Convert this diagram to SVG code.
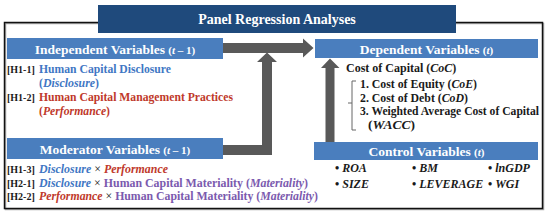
<svg xmlns="http://www.w3.org/2000/svg" width="550" height="214" viewBox="0 0 550 214">
<defs>
<style>
text{font-family:"Liberation Serif","Times New Roman",serif;font-weight:bold;}
.hdr{fill:#4A7EBE;}
.hdrt{fill:#fff;font-size:13.5px;text-anchor:middle;}
.sm{font-size:11px;}
.b{font-size:12px;fill:#1a1a1a;}
.tag{font-size:10px;fill:#1a1a1a;}
.blue{fill:#3F77C4;}
.red{fill:#C0392B;}
.pur{fill:#7B5AAE;}
.blk{fill:#1a1a1a;font-weight:normal;}
.i{font-style:italic;}
.arrow{fill:#595959;}
.brk{fill:none;stroke:#666;stroke-width:1;}
</style>
</defs>
<rect width="550" height="214" fill="#fff"/>
<g id="frame">
<rect x="5.5" y="23.5" width="538" height="186" fill="none" stroke="#aaa" stroke-width="1.5"/>
<rect x="4.5" y="22.5" width="538" height="186" fill="none" stroke="#111" stroke-width="1.5"/>
</g>
<g id="title">
<rect x="98" y="5" width="358" height="28" fill="#1F4A7C"/>
<text x="277" y="23.5" fill="#fff" font-size="14" text-anchor="middle">Panel Regression Analyses</text>
</g>
<g id="connectors">
<polygon class="arrow" points="223,43 303,43 303,38.5 313.5,48 303,57.5 303,53 223,53"/>
<polygon class="arrow" points="223,145 262,145 262,62 257,62 267,52.5 277,62 272,62 272,155 223,155"/>
<polygon class="arrow" points="325.5,142 325.5,68 321,68 330,58.5 339.5,68 334.5,68 334.5,142"/>
</g>
<g id="independent">
<rect class="hdr" x="7" y="38" width="216" height="21"/>
<text class="hdrt" x="115" y="54">Independent Variables <tspan class="sm">(<tspan class="i">t</tspan> – 1)</tspan></text>
<text class="tag" x="7" y="73">[H1-1]</text>
<text class="b blue" x="39" y="73" textLength="132" lengthAdjust="spacingAndGlyphs">Human Capital Disclosure</text>
<text class="b blue" x="39" y="87" textLength="60" lengthAdjust="spacingAndGlyphs">(<tspan class="i">Disclosure</tspan>)</text>
<text class="tag" x="7" y="101">[H1-2]</text>
<text class="b red" x="39" y="101" textLength="194" lengthAdjust="spacingAndGlyphs">Human Capital Management Practices</text>
<text class="b red" x="39" y="114.5" textLength="71" lengthAdjust="spacingAndGlyphs">(<tspan class="i">Performance</tspan>)</text>
</g>
<g id="moderator">
<rect class="hdr" x="7" y="138" width="216" height="21"/>
<text class="hdrt" x="115" y="153.5">Moderator Variables <tspan class="sm">(<tspan class="i">t</tspan> – 1)</tspan></text>
<text class="tag" x="7" y="173">[H1-3]</text>
<text class="b" x="39" y="173" textLength="129" lengthAdjust="spacingAndGlyphs"><tspan class="blue i">Disclosure</tspan> <tspan class="blk">×</tspan> <tspan class="red i">Performance</tspan></text>
<text class="tag" x="7" y="186.5">[H2-1]</text>
<text class="b" x="39" y="186.5" textLength="269" lengthAdjust="spacingAndGlyphs"><tspan class="blue i">Disclosure</tspan> <tspan class="blk">×</tspan> <tspan class="pur">Human Capital Materiality (<tspan class="i">Materiality</tspan>)</tspan></text>
<text class="tag" x="7" y="200">[H2-2]</text>
<text class="b" x="39" y="200" textLength="279" lengthAdjust="spacingAndGlyphs"><tspan class="red i">Performance</tspan> <tspan class="blk">×</tspan> <tspan class="pur">Human Capital Materiality (<tspan class="i">Materiality</tspan>)</tspan></text>
</g>
<g id="dependent">
<rect class="hdr" x="315" y="39" width="223" height="19"/>
<text class="hdrt" x="426.5" y="53.5">Dependent Variables <tspan class="sm">(<tspan class="i">t</tspan>)</tspan></text>
<text class="b" x="346" y="72">Cost of Capital (<tspan class="i">CoC</tspan>)</text>
<path class="brk" d="M356,81 H352 V130 H356 M352,103 H348"/>
<text class="b" x="360" y="87.5" textLength="117" lengthAdjust="spacingAndGlyphs">1. Cost of Equity (<tspan class="i">CoE</tspan>)</text>
<text class="b" x="360" y="101.5" textLength="108" lengthAdjust="spacingAndGlyphs">2. Cost of Debt (<tspan class="i">CoD</tspan>)</text>
<text class="b" x="360" y="115" textLength="179" lengthAdjust="spacingAndGlyphs">3. Weighted Average Cost of Capital</text>
<text class="b" x="368" y="128.5" textLength="47" lengthAdjust="spacingAndGlyphs">(<tspan class="i">WACC</tspan>)</text>
</g>
<g id="control">
<rect class="hdr" x="314" y="142" width="224" height="18"/>
<text class="hdrt" x="426.5" y="156">Control Variables <tspan class="sm">(<tspan class="i">t</tspan>)</tspan></text>
<text class="b" x="335" y="172">• <tspan class="i">ROA</tspan></text>
<text class="b" x="335" y="188">• <tspan class="i">SIZE</tspan></text>
<text class="b" x="412" y="172">• <tspan class="i">BM</tspan></text>
<text class="b" x="412" y="188">• <tspan class="i">LEVERAGE</tspan></text>
<text class="b" x="488" y="172">• <tspan class="i">lnGDP</tspan></text>
<text class="b" x="488" y="188">• <tspan class="i">WGI</tspan></text>
</g>
</svg>
